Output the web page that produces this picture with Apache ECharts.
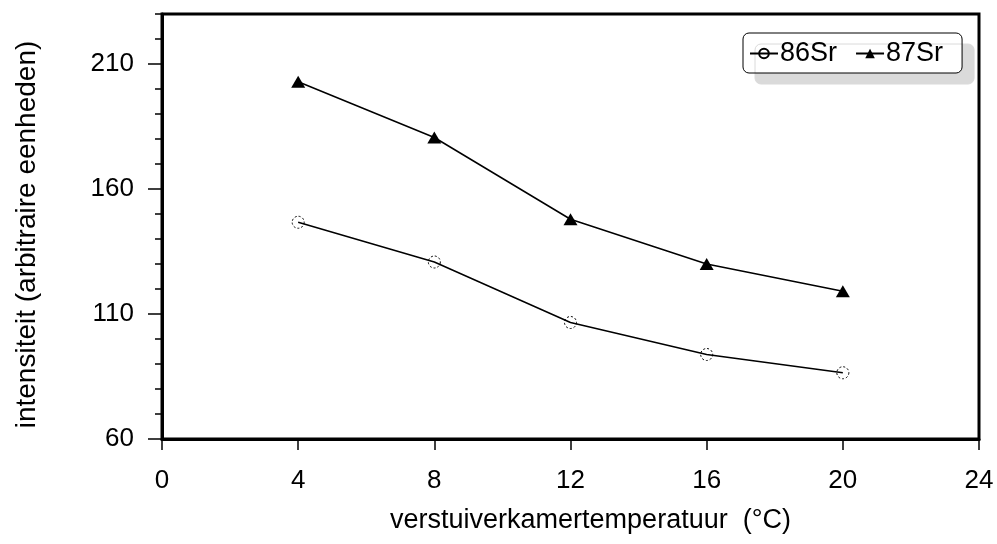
<!DOCTYPE html>
<html>
<head>
<meta charset="utf-8">
<script src="https://cdn.jsdelivr.net/npm/echarts@6/dist/echarts.min.js"></script>
<style>
html,body{margin:0;padding:0;background:#fff;}
#chart{width:997px;height:544px;}
</style>
</head>
<body>
<div id="chart"></div>
<script>
var temperatures = [4, 8, 12, 16, 20];
var sr86 = [146.7, 130.8, 106.6, 93.8, 86.5];
var sr87 = [202.9, 180.6, 147.9, 130.0, 119.1];
var yMajorTicks = [60, 110, 160, 210];
var seriesNames = ['86Sr', '87Sr'];
var xAxisTitle = 'verstuiverkamertemperatuur  (\u00B0C)';
var yAxisTitle = 'intensiteit (arbitraire eenheden)';

var FONT = '"Liberation Sans", Arial, sans-serif';

function pairs(xs, ys) {
  return xs.map(function (x, i) { return [x, ys[i]]; });
}

var chart = echarts.init(document.getElementById('chart'), null, {renderer: 'canvas'});
chart.setOption({
  animation: false,
  backgroundColor: '#fff',
  textStyle: {fontFamily: FONT, color: '#000'},
  grid: {
    left: 162, right: 18, top: 14, bottom: 105,
    show: true, borderColor: '#000', borderWidth: 3, backgroundColor: 'transparent'
  },
  legend: {
    data: seriesNames,
    left: 743, top: 33,
    orient: 'horizontal',
    padding: [7, 19, 6, 6],
    itemGap: 18,
    itemWidth: 28,
    itemHeight: 12,
    backgroundColor: '#fff',
    borderColor: '#000',
    borderWidth: 1,
    borderRadius: 6,
    shadowColor: '#dadada',
    shadowBlur: 0,
    shadowOffsetX: 12,
    shadowOffsetY: 11,
    textStyle: {fontFamily: FONT, fontSize: 27, color: '#000', padding: [0, 0, 0, -3]}
  },
  xAxis: {
    type: 'value',
    min: 0, max: 24, interval: 4,
    name: xAxisTitle,
    nameLocation: 'middle',
    nameGap: 68,
    nameTextStyle: {fontFamily: FONT, fontSize: 27, color: '#000', padding: [0, 0, 0, 40]},
    axisLine: {show: true, onZero: false, lineStyle: {color: '#000', width: 3}},
    axisTick: {show: true, inside: false, length: 11, lineStyle: {color: '#000', width: 1.5}},
    axisLabel: {fontFamily: FONT, fontSize: 26, color: '#000', margin: 29},
    splitLine: {show: false}
  },
  yAxis: [
    {
      type: 'value',
      min: 60, max: 230, interval: 50,
      position: 'left',
      name: yAxisTitle,
      nameLocation: 'middle',
      nameGap: 121,
      nameTextStyle: {fontFamily: FONT, fontSize: 28, color: '#000', padding: [0, 16, 0, 0]},
      axisLine: {show: true, onZero: false, lineStyle: {color: '#000', width: 3}},
      axisTick: {show: true, inside: false, length: 14, customValues: yMajorTicks, lineStyle: {color: '#000', width: 1.5}},
      axisLabel: {fontFamily: FONT, fontSize: 26, color: '#000', margin: 28, customValues: yMajorTicks},
      splitLine: {show: false}
    },
    {
      type: 'value',
      min: 60, max: 230, interval: 10,
      position: 'left',
      axisLine: {show: false},
      axisTick: {show: true, inside: false, length: 7, lineStyle: {color: '#000', width: 1.5}},
      axisLabel: {show: false},
      splitLine: {show: false}
    }
  ],
  series: [
    {
      name: seriesNames[0],
      type: 'line',
      yAxisIndex: 0,
      data: pairs(temperatures, sr86),
      symbol: 'circle',
      symbolSize: 12,
      lineStyle: {color: '#000', width: 1.5},
      itemStyle: {color: 'rgba(255,255,255,0)', borderColor: '#000', borderWidth: 1, borderType: [2, 2]},
      z: 3
    },
    {
      name: seriesNames[1],
      type: 'line',
      yAxisIndex: 0,
      data: pairs(temperatures, sr87),
      symbol: 'triangle',
      symbolSize: [14, 12],
      lineStyle: {color: '#000', width: 1.5},
      itemStyle: {color: '#000', borderWidth: 0},
      z: 3
    }
  ]
});
</script>
</body>
</html>
